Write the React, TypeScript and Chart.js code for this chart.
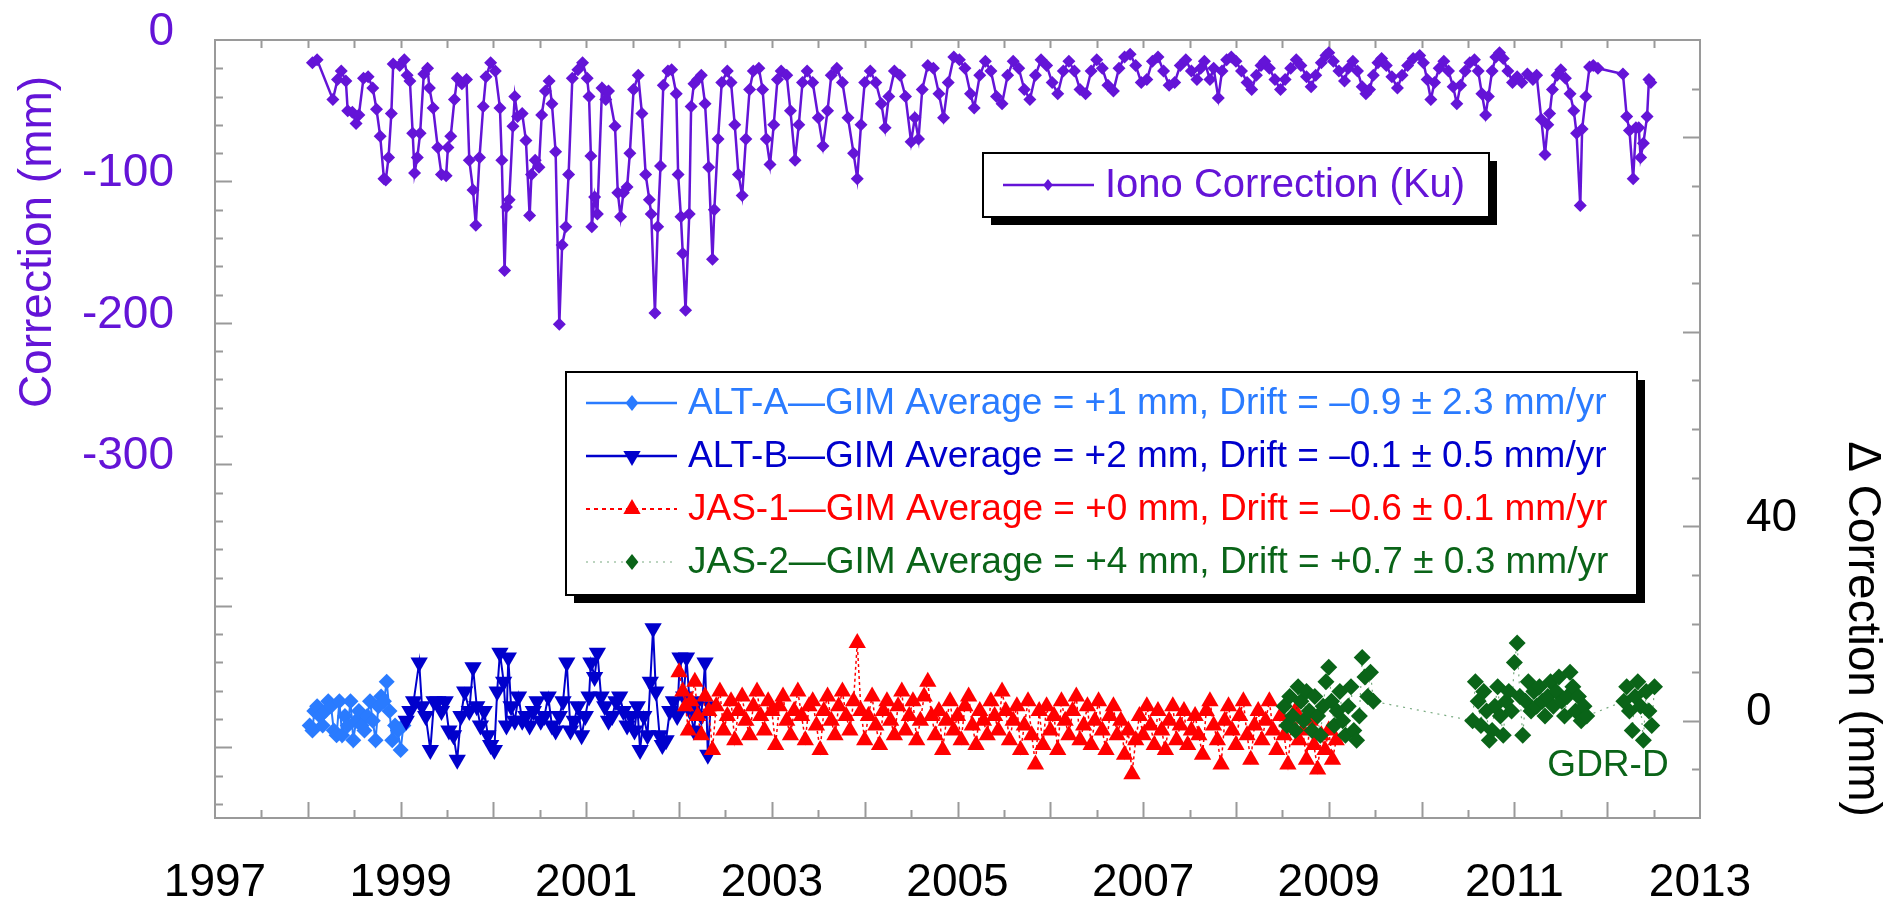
import React, { useEffect, useRef } from 'react';
import { Chart, registerables } from 'chart.js';

Chart.register(...registerables);

const FONT = '"Liberation Sans", Arial, Helvetica, sans-serif';
const PURPLE = '#6414D7';
const LIGHT_BLUE = '#2A7BFF';
const DARK_BLUE = '#0000CC';
const RED = '#FF0000';
const GREEN = '#0A6418';

const xLabelYears = [1997, 1999, 2001, 2003, 2005, 2007, 2009, 2011, 2013];
const leftLabelValues = [0, -100, -200, -300];
const rightLabelValues = [0, 40];

const ionoLegend = 'Iono Correction (Ku)';
const deltaLegends = [
  'ALT-A\u2014GIM Average = +1 mm, Drift = \u20130.9 \u00b1 2.3 mm/yr',
  'ALT-B\u2014GIM Average = +2 mm, Drift = \u20130.1 \u00b1 0.5 mm/yr',
  'JAS-1\u2014GIM Average = +0 mm, Drift = \u20130.6 \u00b1 0.1 mm/yr',
  'JAS-2\u2014GIM Average = +4 mm, Drift = +0.7 \u00b1 0.3 mm/yr',
];
const leftTitle = 'Correction (mm)';
const rightTitle = '\u0394 Correction (mm)';
const gdrNote = 'GDR-D';

// Iono correction (Ku), mm
const ionoYears = [
  1998.05, 1998.10, 1998.27, 1998.32, 1998.36, 1998.41, 1998.43, 1998.48, 1998.52, 1998.55, 1998.60, 1998.65, 1998.70, 1998.74, 1998.78, 1998.82, 1998.84, 1998.87, 1998.90, 1998.92, 1998.99,
  1999.04, 1999.07, 1999.10, 1999.13, 1999.15, 1999.18, 1999.21, 1999.25, 1999.29, 1999.31, 1999.35, 1999.40, 1999.44, 1999.49, 1999.51, 1999.54, 1999.58, 1999.61, 1999.66, 1999.71, 1999.74, 1999.78, 1999.81, 1999.85, 1999.89, 1999.92, 1999.97,
  2000.02, 2000.07, 2000.09, 2000.12, 2000.14, 2000.17, 2000.21, 2000.23, 2000.26, 2000.31, 2000.35, 2000.39, 2000.41, 2000.45, 2000.49, 2000.52, 2000.56, 2000.60, 2000.63, 2000.67, 2000.71, 2000.74, 2000.78, 2000.81, 2000.85, 2000.91, 2000.96,
  2001.01, 2001.03, 2001.05, 2001.06, 2001.09, 2001.12, 2001.17, 2001.21, 2001.24, 2001.31, 2001.34, 2001.37, 2001.40, 2001.44, 2001.47, 2001.51, 2001.56, 2001.60, 2001.64, 2001.68, 2001.70, 2001.74, 2001.77, 2001.80, 2001.83, 2001.88, 2001.92, 2001.97, 2001.99,
  2002.02, 2002.04, 2002.07, 2002.11, 2002.13, 2002.16, 2002.20,
  2002.24, 2002.28, 2002.32, 2002.36, 2002.38, 2002.42, 2002.46, 2002.52, 2002.56, 2002.60, 2002.64, 2002.68, 2002.72, 2002.76, 2002.80, 2002.86, 2002.90, 2002.94, 2002.98,
  2003.02, 2003.06, 2003.10, 2003.16, 2003.20, 2003.25, 2003.29, 2003.33, 2003.38, 2003.44, 2003.50, 2003.55, 2003.60, 2003.64, 2003.70, 2003.76, 2003.82, 2003.88, 2003.92, 2003.96,
  2004.00, 2004.06, 2004.12, 2004.18, 2004.22, 2004.26, 2004.32, 2004.38, 2004.44, 2004.50, 2004.54, 2004.58, 2004.62, 2004.68, 2004.74, 2004.80, 2004.85, 2004.90, 2004.96,
  2005.02, 2005.08, 2005.14, 2005.18, 2005.24, 2005.30, 2005.36, 2005.42, 2005.48, 2005.54, 2005.60, 2005.66, 2005.72, 2005.78, 2005.84, 2005.90, 2005.96,
  2006.02, 2006.08, 2006.14, 2006.20, 2006.26, 2006.32, 2006.38, 2006.44, 2006.50, 2006.56, 2006.62, 2006.68, 2006.74, 2006.80, 2006.86, 2006.92, 2006.98,
  2007.04, 2007.10, 2007.16, 2007.22, 2007.28, 2007.34, 2007.40, 2007.46, 2007.52, 2007.58,
  2007.62, 2007.66, 2007.72, 2007.76, 2007.81, 2007.85, 2007.90, 2007.95,
  2008.00, 2008.06, 2008.12, 2008.17, 2008.22, 2008.27, 2008.31, 2008.36, 2008.42, 2008.48, 2008.53, 2008.59, 2008.65, 2008.70, 2008.76, 2008.81, 2008.86, 2008.92, 2008.97,
  2009.00, 2009.05, 2009.11, 2009.17, 2009.21, 2009.26, 2009.31, 2009.36, 2009.40, 2009.44, 2009.48, 2009.53, 2009.57, 2009.62, 2009.68, 2009.74, 2009.79, 2009.85, 2009.91, 2009.98,
  2010.02, 2010.06, 2010.10, 2010.14, 2010.19, 2010.24, 2010.29, 2010.34, 2010.38, 2010.42, 2010.47, 2010.52, 2010.57, 2010.61, 2010.65, 2010.69, 2010.72, 2010.76, 2010.80, 2010.84, 2010.88, 2010.93, 2010.98,
  2011.03, 2011.08, 2011.14, 2011.20, 2011.24, 2011.29, 2011.33, 2011.36, 2011.38, 2011.41, 2011.46, 2011.50, 2011.55, 2011.60, 2011.64, 2011.67, 2011.71, 2011.73, 2011.77, 2011.81, 2011.85, 2011.90,
  2012.17, 2012.21, 2012.24, 2012.28, 2012.31, 2012.34, 2012.36, 2012.39, 2012.43, 2012.45, 2012.47,
];
const ionoValues = [
  -16, -14, -42, -28, -22, -29, -50, -51, -59, -53, -27, -26, -34, -49, -68, -98, -99, -83, -52, -17, -18,
  -14, -25, -29, -66, -94, -83, -66, -24, -20, -34, -48, -76, -95, -96, -76, -68, -42, -27, -31, -28, -85, -106, -131, -83, -47, -26, -16,
  -22, -48, -85, -163, -118, -113, -61, -40, -54, -52, -71, -124, -95, -85, -90, -53, -36, -29, -45, -79, -201, -145, -132, -95, -27, -21, -16,
  -27, -40, -82, -132, -111, -123, -34, -42, -36, -61, -108, -125, -108, -104, -80, -35, -25, -52, -95, -113, -123, -193, -132, -89, -32, -22, -21, -38, -95,
  -125, -151, -191, -123, -47, -31, -28,
  -25, -45, -90, -155, -120, -70, -30, -22, -30, -60, -95, -110, -70, -35, -22, -20, -35, -70, -88,
  -60, -28, -22, -25, -50, -85, -60, -30, -22, -30, -55, -75, -50, -25, -20, -30, -55, -80, -98, -60,
  -30, -22, -30, -45, -62, -40, -22, -25, -40, -72, -55, -70, -35, -18, -20, -38, -55, -30, -12,
  -14, -20, -38, -48, -25, -15, -22, -40, -45, -25, -15, -20, -35, -42, -25, -14, -18,
  -30, -38, -22, -15, -22, -35, -38, -22, -14, -20, -32, -36, -20, -12, -10, -18, -30,
  -28, -15, -12, -22, -32, -30, -18, -14, -22, -28,
  -20, -15, -28, -20, -41, -22, -14, -12,
  -15, -22, -30, -35, -25, -18, -15, -20, -28, -35, -28, -20, -14, -18, -26, -33, -25, -16, -11,
  -9, -15, -22, -29, -20, -15, -22, -33, -38, -35, -25, -16, -13, -18, -26, -34, -25, -18, -13, -11,
  -16, -28, -42, -30, -20, -15, -22, -33, -45, -32, -22, -16, -14, -22, -38, -53, -40, -22, -12, -9, -13, -22, -30,
  -26, -30, -24, -28, -25, -56, -81, -60, -52, -35, -25, -21, -27, -38, -50, -66, -117, -63, -40, -19, -18, -20,
  -24, -54, -64, -98, -62, -62, -83, -73, -54, -28, -30,
];

// ALT-A minus GIM, mm
const altAYears = [
  1998.02, 1998.05, 1998.07, 1998.10, 1998.13, 1998.16, 1998.19, 1998.22, 1998.25, 1998.28, 1998.31, 1998.34, 1998.37, 1998.40, 1998.43, 1998.46, 1998.49, 1998.52,
  1998.55, 1998.58, 1998.61, 1998.64, 1998.67, 1998.70, 1998.73, 1998.76, 1998.79, 1998.82, 1998.85, 1998.88, 1998.91, 1998.94, 1998.97, 1999.00, 1999.03,
];
const altAValues = [
  -1, -2, 2, 3, 1, -1, 2, 4, 3, -2, -3, 4, -3, 1, -1, 4, -4, 0,
  2, -1, -2, 1, 4, 0, -4, 3, 5, 4, 8, 2, -4, -1, -2, -6, -1,
];

// ALT-B minus GIM, mm
const altBYears = [
  1999.06, 1999.10, 1999.14, 1999.20, 1999.23, 1999.27, 1999.32, 1999.36, 1999.40, 1999.44, 1999.48, 1999.52, 1999.57, 1999.61, 1999.65, 1999.69, 1999.74, 1999.78, 1999.82, 1999.86, 1999.90, 1999.94, 1999.97,
  2000.01, 2000.04, 2000.07, 2000.11, 2000.14, 2000.16, 2000.19, 2000.23, 2000.27, 2000.31, 2000.35, 2000.39, 2000.43, 2000.47, 2000.51, 2000.55, 2000.59, 2000.63, 2000.67, 2000.71, 2000.75, 2000.79, 2000.83, 2000.87, 2000.91, 2000.95, 2000.99,
  2001.03, 2001.05, 2001.09, 2001.12, 2001.16, 2001.20, 2001.24, 2001.28, 2001.32, 2001.36, 2001.40, 2001.44, 2001.48, 2001.52, 2001.55, 2001.58, 2001.62, 2001.66, 2001.69, 2001.72, 2001.75, 2001.79, 2001.82, 2001.86, 2001.90, 2001.94, 2001.98,
  2002.01, 2002.05, 2002.08, 2002.12, 2002.16, 2002.20, 2002.24, 2002.28, 2002.31, 2002.34,
];
const altBValues = [
  0, 2, 4, 12, 3, 1, -6, 4, 4, 2, 4, -2, -3, -8, 1, 6, 2, 11, 3, -1, 2, -3, -5,
  -6, 6, 14, 8, -1, 13, 3, 0, 5, 0, 1, -1, 2, 4, 0, 1, 5, -1, -2, 1, 4, 12, -2, 0, 3, -3, 1,
  5, 12, 9, 14, 5, 3, 0, 1, 4, 5, 2, -1, 1, -2, 3, -6, 1, -3, 8, 19, 6, -3, -5, -4, 2, 4, 1,
  13, 5, 13, 2, -2, 4, 1, 12, -7, 3,
];

// Jason-1 minus GIM, mm
const jas1Years = [
  2002.00, 2002.04, 2002.07, 2002.10, 2002.13, 2002.17, 2002.20, 2002.24, 2002.28, 2002.32, 2002.36, 2002.40, 2002.44, 2002.48, 2002.52, 2002.56, 2002.60, 2002.64, 2002.68, 2002.72, 2002.76, 2002.80, 2002.84, 2002.88, 2002.92, 2002.96,
  2003.00, 2003.04, 2003.08, 2003.12, 2003.16, 2003.20, 2003.24, 2003.28, 2003.32, 2003.36, 2003.40, 2003.44, 2003.48, 2003.52, 2003.56, 2003.60, 2003.64, 2003.68, 2003.72, 2003.76, 2003.80, 2003.84, 2003.88, 2003.92, 2003.96,
  2004.00, 2004.04, 2004.08, 2004.12, 2004.16, 2004.20, 2004.24, 2004.28, 2004.32, 2004.36, 2004.40, 2004.44, 2004.48, 2004.52, 2004.56, 2004.60, 2004.64, 2004.68, 2004.72, 2004.76, 2004.80, 2004.84, 2004.88, 2004.92, 2004.96,
  2005.00, 2005.04, 2005.08, 2005.12, 2005.16, 2005.20, 2005.24, 2005.28, 2005.32, 2005.36, 2005.40, 2005.44, 2005.48, 2005.52, 2005.56, 2005.60, 2005.64, 2005.68, 2005.72, 2005.76, 2005.80, 2005.84, 2005.88, 2005.92, 2005.96,
  2006.00, 2006.04, 2006.08, 2006.12, 2006.16, 2006.20, 2006.24, 2006.28, 2006.32, 2006.36, 2006.40, 2006.44, 2006.48, 2006.52, 2006.56, 2006.60, 2006.64, 2006.68, 2006.72, 2006.76, 2006.80, 2006.84, 2006.88, 2006.92, 2006.96,
  2007.00, 2007.04, 2007.08, 2007.12, 2007.16, 2007.20, 2007.24, 2007.28, 2007.32, 2007.36, 2007.40, 2007.44, 2007.48, 2007.52, 2007.56, 2007.60, 2007.64, 2007.68, 2007.72, 2007.76, 2007.80, 2007.84, 2007.88, 2007.92, 2007.96,
  2008.00, 2008.04, 2008.08, 2008.12, 2008.16, 2008.20, 2008.24, 2008.28, 2008.32, 2008.36, 2008.40, 2008.44, 2008.48, 2008.52, 2008.56, 2008.60, 2008.64, 2008.68, 2008.72, 2008.76, 2008.80, 2008.84, 2008.88, 2008.92, 2008.96,
  2009.00, 2009.04, 2009.08,
];
const jas1Values = [
  10, 6, 3, -2, 4, 8, 1, -3, 5, 2, -6, 3, 6, -2, 1, 4, -4, 2, 5, 0, -3, 3, 6, 1, -2, 4,
  2, -5, 3, 5, 0, -3, 2, 6, 1, -4, 3, 4, -1, -6, 2, 5, 0, -3, 3, 6, 1, -2, 4, 16, 2,
  -4, 1, 5, -1, -5, 2, 4, 0, -3, 3, 6, -2, 1, 4, -4, 0, 5, 8, 1, -3, 2, -6, 0, 4, -2,
  1, -4, 3, 5, -1, -5, 2, 0, -3, 4, 1, -2, 6, 2, -4, 0, 3, -6, -1, 4, -3, -9, 2, -5, 3,
  -2, 1, -6, 4, 0, -3, 2, 5, -4, -1, 3, -5, 0, 4, -2, -6, 1, 3, -3, 0, -7, -2, -11, -4, 1,
  -3, 3, -1, -5, 2, -2, -6, 0, 3, -4, -1, 2, -5, -2, 1, -3, -7, 2, 4, -1, -4, -9, 0, 3, -2,
  -5, 1, 4, -3, -8, -1, 2, -4, 0, 4, -2, -6, 1, -3, -9, -1, 2, -4, -2, -8, 0, -5, -10, -3, -6,
  -2, -8, -4,
];

// Jason-2 minus GIM, mm
const jas2Years = [
  2008.52, 2008.55, 2008.58, 2008.61, 2008.64, 2008.67, 2008.70, 2008.73, 2008.76, 2008.79, 2008.82, 2008.85, 2008.88, 2008.91, 2008.94, 2008.97,
  2009.00, 2009.03, 2009.06, 2009.09, 2009.12, 2009.15, 2009.18, 2009.21, 2009.24, 2009.27, 2009.30, 2009.33, 2009.36, 2009.39, 2009.42, 2009.45, 2009.48,
  2010.55, 2010.58, 2010.61, 2010.64, 2010.67, 2010.70, 2010.73, 2010.76, 2010.79, 2010.82, 2010.85, 2010.88, 2010.91, 2010.94, 2010.97,
  2011.00, 2011.03, 2011.06, 2011.09, 2011.12, 2011.15, 2011.18, 2011.21, 2011.24, 2011.27, 2011.30, 2011.33, 2011.36, 2011.39, 2011.42, 2011.45, 2011.48, 2011.51, 2011.54, 2011.57, 2011.60, 2011.63, 2011.66, 2011.69, 2011.72, 2011.75, 2011.78,
  2012.18, 2012.21, 2012.24, 2012.27, 2012.30, 2012.33, 2012.36, 2012.39, 2012.42, 2012.45, 2012.48, 2012.51,
];
const jas2Values = [
  3, -1, 5, 1, -2, 7, 4, 0, 6, 2, -2, 5, 1, -3, 3, 8,
  11, 4, -1, 2, 6, 0, -3, 3, 7, -2, -4, 1, 13, 9, 5, 10, 4,
  0, 8, 4, -1, 6, 2, -4, -2, 3, 7, 1, -3, 4, 6, 2,
  12, 16, 5, -3, 4, 8, 2, 6, 3, 7, 4, 1, 5, 8, 3, 6, 9, 4, 1, 5, 10, 7, 2, 5, 0, 3, 1,
  4, 7, 2, -2, 5, 8, 3, -4, 6, 2, -1, 7,
];

const pts = (xs: number[], ys: number[]) => xs.map((x, i) => ({ x, y: ys[i] }));

function drawMarker(ctx: CanvasRenderingContext2D, kind: string, x: number, y: number, r: number, color: string) {
  ctx.save();
  ctx.fillStyle = color;
  ctx.beginPath();
  if (kind === 'diamond') {
    ctx.moveTo(x - r * 0.8, y);
    ctx.lineTo(x, y - r);
    ctx.lineTo(x + r * 0.8, y);
    ctx.lineTo(x, y + r);
  } else if (kind === 'up') {
    ctx.moveTo(x, y - r);
    ctx.lineTo(x + r * 0.866, y + r * 0.5);
    ctx.lineTo(x - r * 0.866, y + r * 0.5);
  } else {
    ctx.moveTo(x, y + r);
    ctx.lineTo(x + r * 0.866, y - r * 0.5);
    ctx.lineTo(x - r * 0.866, y - r * 0.5);
  }
  ctx.closePath();
  ctx.fill();
  ctx.restore();
}

function shadowBox(ctx: CanvasRenderingContext2D, x: number, y: number, w: number, h: number) {
  ctx.save();
  ctx.fillStyle = '#000';
  ctx.fillRect(x + 8, y + 8, w, h);
  ctx.fillStyle = '#fff';
  ctx.fillRect(x, y, w, h);
  ctx.strokeStyle = '#000';
  ctx.lineWidth = 2;
  ctx.strokeRect(x, y, w, h);
  ctx.restore();
}

const decor = {
  id: 'decor',
  beforeDatasetsDraw(chart: any) {
    const { ctx, chartArea: a, scales } = chart;
    const sx = scales.x, sy = scales.y, sy2 = scales.y2;
    ctx.save();
    ctx.strokeStyle = '#9A9A9A';
    ctx.lineWidth = 2;
    ctx.beginPath();
    for (let i = 1; i < 32; i++) {
      const v = sx.min + i * 0.5;
      const px = Math.round(sx.getPixelForValue(v)) + 0.5;
      const major = i % 2 === 0;
      ctx.moveTo(px, a.bottom);
      ctx.lineTo(px, a.bottom - (major ? 16 : 8));
      ctx.moveTo(px, a.top);
      ctx.lineTo(px, a.top + 8);
    }
    for (let v = -540; v < 0; v += 20) {
      const py = Math.round(sy.getPixelForValue(v)) + 0.5;
      const major = v % 100 === 0;
      ctx.moveTo(a.left, py);
      ctx.lineTo(a.left + (major ? 17 : 8), py);
    }
    for (let v = -10; v < 140; v += 10) {
      const py = Math.round(sy2.getPixelForValue(v)) + 0.5;
      const major = v % 40 === 0;
      ctx.moveTo(a.right, py);
      ctx.lineTo(a.right - (major ? 17 : 8), py);
    }
    ctx.stroke();
    ctx.strokeRect(a.left, a.top, a.right - a.left, a.bottom - a.top);
    ctx.restore();
  },
  afterDraw(chart: any) {
    const { ctx } = chart;
    ctx.save();
    ctx.font = `46px ${FONT}`;
    ctx.textAlign = 'center';
    ctx.textBaseline = 'middle';
    ctx.fillStyle = PURPLE;
    ctx.save();
    ctx.translate(38, 242);
    ctx.rotate(-Math.PI / 2);
    ctx.fillText(leftTitle, 0, 0);
    ctx.restore();
    ctx.fillStyle = '#000';
    ctx.save();
    ctx.translate(1862, 629);
    ctx.rotate(Math.PI / 2);
    ctx.fillText(rightTitle, 0, 0);
    ctx.restore();

    ctx.font = `37px ${FONT}`;
    ctx.fillStyle = GREEN;
    ctx.fillText(gdrNote, 1608, 766);

    shadowBox(ctx, 983, 153, 506, 64);
    ctx.strokeStyle = PURPLE;
    ctx.lineWidth = 2.5;
    ctx.beginPath();
    ctx.moveTo(1003, 185);
    ctx.lineTo(1094, 185);
    ctx.stroke();
    drawMarker(ctx, 'diamond', 1048, 185, 6, PURPLE);
    ctx.font = `40px ${FONT}`;
    ctx.textAlign = 'left';
    ctx.fillStyle = PURPLE;
    ctx.fillText(ionoLegend, 1105, 186);

    shadowBox(ctx, 566, 372, 1071, 223);
    const rows = [
      { c: LIGHT_BLUE, m: 'diamond', dash: [] as number[], w: 2.5, r: 8, lc: LIGHT_BLUE },
      { c: DARK_BLUE, m: 'down', dash: [] as number[], w: 2.5, r: 10, lc: DARK_BLUE },
      { c: RED, m: 'up', dash: [4, 4], w: 2, r: 10, lc: RED },
      { c: GREEN, m: 'diamond', dash: [2, 5], w: 1.2, r: 8, lc: 'rgba(10,100,24,0.55)' },
    ];
    const rowY = [403, 456, 509, 562];
    ctx.font = `37px ${FONT}`;
    rows.forEach((row, i) => {
      const y = rowY[i];
      ctx.save();
      ctx.strokeStyle = row.lc;
      ctx.lineWidth = row.w;
      ctx.setLineDash(row.dash);
      ctx.beginPath();
      ctx.moveTo(586, y);
      ctx.lineTo(677, y);
      ctx.stroke();
      ctx.restore();
      drawMarker(ctx, row.m, 632, y, row.r, row.c);
      ctx.fillStyle = row.c;
      ctx.fillText(deltaLegends[i], 688, y + 1);
    });
    ctx.restore();
  },
};

const noPad = (s: any) => {
  s.paddingTop = 0;
  s.paddingBottom = 0;
  s.paddingLeft = 0;
  s.paddingRight = 0;
};

export default function App() {
  const ref = useRef<HTMLCanvasElement>(null);
  useEffect(() => {
    document.body.style.margin = '0';
    const canvas = ref.current;
    if (!canvas) return;
    const tickFont = { size: 46, family: FONT };
    const chart = new Chart(canvas, {
      type: 'line',
      data: {
        datasets: [
          {
            label: ionoLegend, data: pts(ionoYears, ionoValues), yAxisID: 'y',
            borderColor: PURPLE, backgroundColor: PURPLE, borderWidth: 2.5,
            pointStyle: 'rectRot', pointRadius: 6.5, pointBorderWidth: 0, tension: 0, order: 5,
          },
          {
            label: deltaLegends[0], data: pts(altAYears, altAValues), yAxisID: 'y2',
            borderColor: LIGHT_BLUE, backgroundColor: LIGHT_BLUE, borderWidth: 2,
            pointStyle: 'rectRot', pointRadius: 8, pointBorderWidth: 0, order: 4,
          },
          {
            label: deltaLegends[1], data: pts(altBYears, altBValues), yAxisID: 'y2',
            borderColor: DARK_BLUE, backgroundColor: DARK_BLUE, borderWidth: 2,
            pointStyle: 'triangle', pointRotation: 180, pointRadius: 10, pointBorderWidth: 0, order: 3,
          },
          {
            label: deltaLegends[2], data: pts(jas1Years, jas1Values), yAxisID: 'y2',
            borderColor: RED, backgroundColor: RED, borderWidth: 1.5, borderDash: [3, 3],
            pointStyle: 'triangle', pointRadius: 10, pointBorderWidth: 0, order: 2,
          },
          {
            label: deltaLegends[3], data: pts(jas2Years, jas2Values), yAxisID: 'y2',
            borderColor: 'rgba(10,100,24,0.55)', backgroundColor: GREEN, pointBackgroundColor: GREEN,
            borderWidth: 1.2, borderDash: [2, 5],
            pointStyle: 'rectRot', pointRadius: 8.5, pointBorderWidth: 0, order: 1,
          },
        ],
      },
      options: {
        responsive: false,
        animation: false,
        devicePixelRatio: 1,
        layout: { padding: { top: 40, left: 0, right: 0, bottom: 0 } },
        plugins: { legend: { display: false }, tooltip: { enabled: false } },
        scales: {
          x: {
            type: 'linear', min: 1997, max: 2013,
            grid: { display: false }, border: { display: false },
            ticks: {
              font: tickFont, color: '#000', padding: 30, maxRotation: 0, autoSkip: false,
              callback: (v: any) => String(v),
            },
            afterBuildTicks: (s: any) => { s.ticks = xLabelYears.map((v) => ({ value: v })); },
            afterFit: (s: any) => { s.height = 91; noPad(s); },
          },
          y: {
            type: 'linear', position: 'left', min: -550, max: 0,
            grid: { display: false }, border: { display: false },
            ticks: {
              font: tickFont, color: PURPLE, padding: 33, labelOffset: -8,
              callback: (v: any) => String(v),
            },
            afterBuildTicks: (s: any) => { s.ticks = leftLabelValues.map((v) => ({ value: v })); },
            afterFit: (s: any) => { s.width = 215; noPad(s); },
          },
          y2: {
            type: 'linear', position: 'right', min: -20, max: 140,
            grid: { display: false }, border: { display: false },
            ticks: {
              font: tickFont, color: '#000', padding: 38, labelOffset: -8,
              callback: (v: any) => String(v),
            },
            afterBuildTicks: (s: any) => { s.ticks = rightLabelValues.map((v) => ({ value: v })); },
            afterFit: (s: any) => { s.width = 193; noPad(s); },
          },
        },
      },
      plugins: [decor],
    } as any);
    return () => chart.destroy();
  }, []);
  return (
    <div style={{ width: 1893, height: 909 }}>
      <canvas ref={ref} width={1893} height={909} style={{ display: 'block' }} />
    </div>
  );
}
